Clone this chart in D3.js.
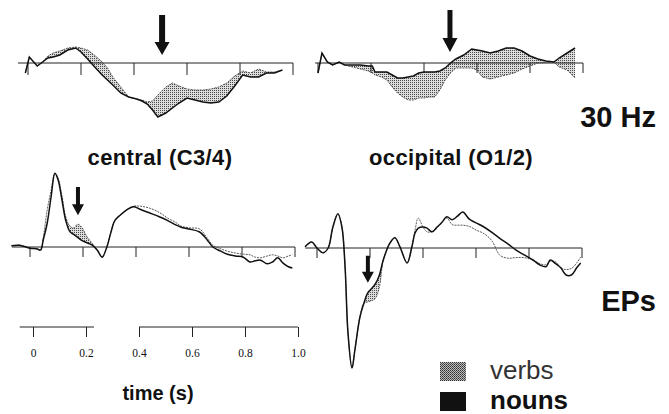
<!DOCTYPE html>
<html>
<head>
<meta charset="utf-8">
<script src="https://cdn.jsdelivr.net/npm/d3@7"></script>
<style>
  body { margin: 0; background: #fff; }
  svg { display: block; }
  .lbl { font-family: "Liberation Sans", Arial, sans-serif; font-weight: bold; fill: #111; }
  .tick-lbl { font-family: "Liberation Serif", "Times New Roman", serif; font-size: 11.5px; fill: #111; }
</style>
</head>
<body>
<script>
// time grids (s) and amplitudes
const tlTime = [-0.01, 0.005, 0.035, 0.055, 0.075, 0.095, 0.12, 0.15, 0.18, 0.2, 0.225, 0.25, 0.28, 0.3, 0.32, 0.35, 0.38, 0.41, 0.43, 0.45, 0.47, 0.49, 0.52, 0.545, 0.57, 0.6, 0.63, 0.66, 0.69, 0.72, 0.75, 0.78, 0.81, 0.84, 0.87, 0.9, 0.93, 0.96]
const tlNouns = [-1.0, 0.6, -0.3, 0.1, 0.5, 0.6, 0.8, 1.3, 1.5, 1.1, 0.4, -0.35, -1.2, -1.7, -2.2, -3.0, -3.4, -3.6, -3.8, -4.1, -4.7, -5.4, -5.0, -4.5, -4.0, -3.5, -3.7, -3.9, -4.0, -3.9, -3.3, -2.3, -1.2, -1.4, -1.4, -1.0, -1.0, -0.7]
const tlVerbs = [-1.0, 0.6, -0.3, 0.1, 0.7, 1.0, 1.2, 1.5, 1.6, 1.5, 1.3, 0.8, 0.1, -0.5, -1.4, -2.4, -3.4, -3.6, -3.7, -3.9, -3.8, -3.2, -2.4, -2.0, -2.3, -2.6, -2.7, -2.7, -2.6, -2.4, -2.0, -1.3, -0.8, -1.0, -0.6, -0.9, -0.9, -0.7]

const trTime = [0, 0.015, 0.035, 0.055, 0.08, 0.1, 0.13, 0.16, 0.19, 0.205, 0.215, 0.24, 0.26, 0.28, 0.3, 0.32, 0.34, 0.36, 0.38, 0.4, 0.42, 0.44, 0.46, 0.48, 0.5, 0.52, 0.55, 0.58, 0.6, 0.62, 0.65, 0.68, 0.71, 0.74, 0.77, 0.8, 0.83, 0.86, 0.89, 0.91, 0.94, 0.97]
const trNouns = [-1.0, 1.0, 0.1, -0.2, 0.1, -0.2, -0.2, -0.2, -0.3, -0.3, -0.9, -0.9, -0.9, -1.2, -1.5, -1.5, -1.4, -1.3, -1.0, -0.9, -0.9, -0.9, -0.8, -0.5, 0, 0.4, 0.8, 1.4, 1.3, 1.2, 1.0, 1.2, 1.5, 1.5, 1.2, 0.7, 0.4, 0.2, 0.1, 0.5, 1.0, 1.5]
const trVerbs = [-1.0, 1.0, 0.1, -0.2, 0.1, -0.2, -0.4, -0.6, -0.8, -1.0, -1.2, -1.4, -1.7, -2.4, -3.0, -3.4, -3.7, -3.7, -3.5, -3.5, -3.4, -3.4, -2.7, -1.7, -1.0, -0.5, -0.5, -0.5, -0.7, -1.4, -1.6, -1.4, -1.2, -1.0, -0.6, -0.3, 0, 0.05, 0.1, -0.4, -0.7, -1.5]

const blTime = [-0.07, -0.04, 0, 0.025, 0.04, 0.05, 0.065, 0.08, 0.094, 0.106, 0.12, 0.135, 0.15, 0.165, 0.18, 0.195, 0.215, 0.235, 0.255, 0.272, 0.29, 0.305, 0.32, 0.34, 0.365, 0.39, 0.415, 0.45, 0.49, 0.52, 0.55, 0.57, 0.6, 0.64, 0.67, 0.69, 0.72, 0.745, 0.775, 0.805, 0.83, 0.85, 0.87, 0.895, 0.915, 0.935, 0.955, 0.975, 0.99]
const blNouns = [0.2, 0.3, -0.2, -0.3, -0.5, 1.2, 4.0, 8.5, 12.3, 11.2, 8.0, 4.4, 2.6, 2.1, 1.6, 1.1, 0.7, 0.3, -0.6, -1.7, 0, 2.4, 4.4, 5.3, 6.2, 6.7, 6.3, 5.7, 5.0, 4.4, 3.7, 3.3, 3.0, 2.5, 1.1, 0, -0.7, -1.2, -1.5, -1.7, -2.5, -2.3, -2.2, -2.8, -2.5, -1.8, -2.7, -3.3, -3.5]
const blVerbs = [0.2, 0.3, -0.2, -0.3, -0.5, 1.5, 6.2, 9.5, 12.3, 11.5, 8.7, 5.0, 3.5, 3.2, 3.8, 3.3, 1.7, 0.6, -0.6, -1.7, 0, 2.4, 4.4, 5.3, 6.2, 6.8, 6.8, 6.5, 5.7, 4.8, 4.1, 3.5, 3.2, 3.0, 1.4, 0.3, -0.3, -0.7, -1.0, -1.2, -1.3, -1.7, -1.8, -1.5, -1.3, -1.5, -1.8, -1.5, -1.3]

const brTime = [-0.045, -0.02, 0, 0.023, 0.042, 0.06, 0.079, 0.094, 0.106, 0.117, 0.132, 0.143, 0.162, 0.177, 0.19, 0.205, 0.22, 0.235, 0.25, 0.275, 0.294, 0.313, 0.34, 0.358, 0.37, 0.382, 0.4, 0.415, 0.434, 0.453, 0.47, 0.49, 0.51, 0.53, 0.55, 0.575, 0.6, 0.63, 0.66, 0.69, 0.72, 0.75, 0.78, 0.815, 0.84, 0.865, 0.88, 0.9, 0.92, 0.94, 0.96, 0.98, 0.995]
const brNouns = [0.2, 1.0, 0, -0.8, 0, 3.5, 5.7, 3.5, -3.2, -14.2, -20, -17, -11.5, -9.2, -7.6, -6.8, -6.0, -4.6, -2.0, 0.8, 1.7, 0.2, -2.5, 0.2, 2.5, 3.3, 3.5, 3.3, 2.7, 3.5, 4.2, 5.2, 4.7, 5.3, 6.0, 4.8, 4.2, 3.5, 2.6, 1.6, 0.7, -0.3, -1.1, -2.0, -2.8, -3.1, -2.0, -2.6, -3.3, -4.5, -4.5, -3.3, -2.5]
const brVerbs = [0.2, 1.0, 0, -0.8, 0, 3.5, 5.7, 3.5, -3.2, -14.2, -20, -17, -11.5, -9.2, -9.0, -8.8, -8.4, -6.6, -2.0, 0.8, 1.7, 0.2, -2.5, 0.2, 3.0, 5.0, 3.5, 2.7, 2.7, 3.3, 4.2, 5.0, 3.9, 3.8, 3.8, 3.6, 3.0, 2.4, 1.2, -1.2, -1.7, -1.6, -1.6, -2.0, -2.6, -2.8, -2.2, -2.3, -3.3, -3.6, -3.4, -2.5, -1.5]

// arrows: [time, tip amplitude, tail amplitude]
const tlArrow = [0.506, 0.8, 4.8]
const trArrow = [0.498, 1.1, 5.3]
const blArrow = [0.181, 5.3, 10]
const brArrow = [0.192, -5.8, -1.3]

const tickTimes = [0, 0.2, 0.4, 0.6, 0.8, 1.0]
const tickLabels = ['0', '0.2', '0.4', '0.6', '0.8', '1.0']

const W = 669
const H = 414

const svg = d3.select('body')
  .append('svg')
  .attr('width', W)
  .attr('height', H)

// stipple fill used between the two curves
const defs = svg.append('defs')
const stip = defs.append('pattern')
  .attr('id', 'stip')
  .attr('width', 2).attr('height', 2)
  .attr('patternUnits', 'userSpaceOnUse')
stip.append('rect').attr('width', 2).attr('height', 2).attr('fill', '#dcdcdc')
stip.append('rect').attr('width', 1).attr('height', 1).attr('fill', '#4a4a4a')

const stipDark = defs.append('pattern')
  .attr('id', 'stipDark')
  .attr('width', 2).attr('height', 2)
  .attr('patternUnits', 'userSpaceOnUse')
stipDark.append('rect').attr('width', 2).attr('height', 2).attr('fill', '#bbb')
stipDark.append('rect').attr('width', 1).attr('height', 1).attr('fill', '#333')
stipDark.append('rect').attr('x', 1).attr('y', 1).attr('width', 1).attr('height', 1).attr('fill', '#555')

const panels = [
  { time: tlTime, nouns: tlNouns, verbs: tlVerbs, arrow: tlArrow, x0: 28, y0: 63, k: 10, start: -0.038, shade: [-1, 2], smooth: false, tick: 12, head: [15, 13, 6] },
  { time: trTime, nouns: trNouns, verbs: trVerbs, arrow: trArrow, x0: 318, y0: 63, k: 10, start: -0.011, shade: [-1, 2], smooth: false, tick: 10, head: [15, 14, 5] },
  { time: blTime, nouns: blNouns, verbs: blVerbs, arrow: blArrow, x0: 30, y0: 247, k: 6, start: -0.068, shade: [0.12, 0.255], smooth: true, tick: 10, head: [12, 11, 4] },
  { time: brTime, nouns: brNouns, verbs: brVerbs, arrow: brArrow, x0: 317, y0: 248, k: 6, start: -0.045, shade: [0.177, 0.25], smooth: true, tick: 10, head: [12, 11, 4] }
]

panels.forEach(p => {
  const x = d3.scaleLinear().domain([0, 1]).range([p.x0, p.x0 + 265])
  const y = d3.scaleLinear().domain([0, 1]).range([p.y0, p.y0 - p.k])
  const curve = p.smooth ? d3.curveCatmullRom.alpha(0.5) : d3.curveLinear
  const g = svg.append('g')

  const rows = p.time.map((t, i) => ({ t: t, n: p.nouns[i], v: p.verbs[i] }))

  // shaded difference
  const area = d3.area()
    .defined(d => d.t >= p.shade[0] && d.t <= p.shade[1])
    .x(d => x(d.t))
    .y0(d => y(d.n))
    .y1(d => y(d.v))
    .curve(curve)
  g.append('path')
    .datum(rows)
    .attr('d', area)
    .attr('fill', 'url(#stip)')

  // zero line with 0.2 s ticks
  g.append('line')
    .attr('x1', x(p.start)).attr('x2', x(1))
    .attr('y1', y(0)).attr('y2', y(0))
    .attr('stroke', '#222')
    .attr('stroke-width', 1)
  g.selectAll('.tk')
    .data(tickTimes)
    .enter().append('line')
    .attr('x1', d => x(d)).attr('x2', d => x(d))
    .attr('y1', y(0)).attr('y2', y(0) + p.tick)
    .attr('stroke', '#222')
    .attr('stroke-width', 1)

  const line = key => d3.line()
    .x(d => x(d.t))
    .y(d => y(d[key]))
    .curve(curve)

  g.append('path')
    .datum(rows)
    .attr('d', line('v'))
    .attr('fill', 'none')
    .attr('stroke', '#444')
    .attr('stroke-width', 0.9)
    .attr('stroke-dasharray', '2,1')

  g.append('path')
    .datum(rows)
    .attr('d', line('n'))
    .attr('fill', 'none')
    .attr('stroke', '#111')
    .attr('stroke-width', 1.5)

  // arrow pointing at the effect
  const [hw, hl, sw] = p.head
  const ax = x(p.arrow[0])
  const tip = y(p.arrow[1])
  const tail = y(p.arrow[2])
  const neck = tip - hl
  g.append('path')
    .attr('d', `M${ax - sw / 2},${tail}H${ax + sw / 2}V${neck}H${ax + hw / 2}L${ax},${tip}L${ax - hw / 2},${neck}H${ax - sw / 2}Z`)
    .attr('fill', '#111')
})

// time axis under the left EP panel
const tx = d3.scaleLinear().domain([0, 1]).range([33, 298])
const axisG = svg.append('g')
  .attr('transform', 'translate(0,327)')
axisG.call(d3.axisBottom(tx).tickValues(tickTimes).tickSize(10).tickPadding(12).tickFormat((d, i) => tickLabels[i]))
axisG.select('.domain').remove()
axisG.selectAll('.tick line').attr('stroke', '#222')
axisG.selectAll('.tick text').attr('class', 'tick-lbl').attr('font-family', null).attr('font-size', null)
axisG.selectAll('.seg')
  .data([[-0.05, 0.23], [0.4, 1.0]])
  .enter().append('line')
  .attr('x1', d => tx(d[0])).attr('x2', d => tx(d[1]))
  .attr('y1', 0).attr('y2', 0)
  .attr('stroke', '#222')

svg.append('text').attr('class', 'lbl')
  .attr('x', 158).attr('y', 400)
  .attr('text-anchor', 'middle')
  .style('font-size', '20px')
  .text('time (s)')

svg.append('text').attr('class', 'lbl')
  .attr('x', 656).attr('y', 127)
  .attr('text-anchor', 'end')
  .style('font-size', '29px')
  .text('30 Hz')

svg.append('text').attr('class', 'lbl')
  .attr('x', 160).attr('y', 165)
  .attr('text-anchor', 'middle')
  .style('font-size', '22px')
  .style('letter-spacing', '0.4px')
  .text('central (C3/4)')

svg.append('text').attr('class', 'lbl')
  .attr('x', 451).attr('y', 165)
  .attr('text-anchor', 'middle')
  .style('font-size', '22px')
  .style('letter-spacing', '0.4px')
  .text('occipital (O1/2)')

svg.append('text').attr('class', 'lbl')
  .attr('x', 656).attr('y', 311)
  .attr('text-anchor', 'end')
  .style('font-size', '29px')
  .text('EPs')

// legend
const legend = [
  { name: 'verbs', fill: 'url(#stipDark)', weight: 'normal', color: '#333' },
  { name: 'nouns', fill: '#111', weight: 'bold', color: '#111' }
]
const lg = svg.selectAll('.leg')
  .data(legend)
  .enter().append('g')
  .attr('transform', (d, i) => `translate(440,${362 + i * 30})`)
lg.append('rect')
  .attr('width', 26).attr('height', 19)
  .attr('fill', d => d.fill)
lg.append('text')
  .attr('class', 'lbl')
  .attr('x', 50).attr('y', 17)
  .style('font-size', '26px')
  .style('font-weight', d => d.weight)
  .style('fill', d => d.color)
  .text(d => d.name)
</script>
</body>
</html>
